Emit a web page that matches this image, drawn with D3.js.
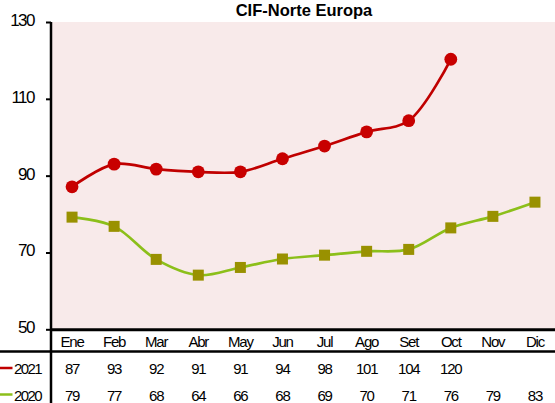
<!DOCTYPE html>
<html><head><meta charset="utf-8">
<script src="https://cdn.jsdelivr.net/npm/d3@7"></script>
<style>
html,body{margin:0;padding:0;background:#fff;}
svg{display:block;font-family:"Liberation Sans",Arial,sans-serif;}
</style></head>
<body>
<svg id="c" width="555" height="403"></svg>
<script>
const title = "CIF-Norte Europa";
const months = ["Ene","Feb","Mar","Abr","May","Jun","Jul","Ago","Set","Oct","Nov","Dic"];
const series2021 = [87.1, 93.0, 91.7, 91.0, 91.0, 94.4, 97.7, 101.4, 104.3, 120.3];
const series2020 = [79.2, 76.8, 68.2, 64.1, 66.1, 68.3, 69.3, 70.3, 70.8, 76.4, 79.4, 83.1];
const seriesNames = ["2021", "2020"];
const yTicks = [50, 70, 90, 110, 130];

const svg = d3.select("#c");
const W = 555, H = 403;
const L = 51, R = 556, T = 22, B = 329.3;

const x = d3.scaleBand().domain(months).range([L, R]);
const y = d3.scaleLinear().domain([50, 130]).range([B, T]);
const cx = m => x(m) + x.bandwidth() / 2;

// plot background
svg.append("rect").attr("x", L).attr("y", T).attr("width", W - L).attr("height", B - T)
  .attr("fill", "#f8eaea");

// title
svg.append("text").attr("x", 304).attr("y", 16).attr("text-anchor", "middle")
  .attr("font-size", 16.5).attr("font-weight", "bold").attr("fill", "#000").text(title);

// y axis
const yAxis = d3.axisLeft(y).tickValues(yTicks).tickSize(5).tickPadding(12).tickSizeOuter(0);
const ga = svg.append("g").attr("transform", `translate(${L},0)`).call(yAxis);
ga.select(".domain").remove();
ga.selectAll(".tick line").attr("stroke", "#000").attr("stroke-width", 2);
ga.selectAll(".tick text").attr("font-size", 17).attr("letter-spacing", -1.5)
  .attr("fill", "#000").attr("font-family", "Liberation Sans, Arial, sans-serif")
  .attr("dy", "0.2em");

// lines
const line = d3.line().x((d, i) => cx(months[i])).y(d => y(d)).curve(d3.curveCatmullRom.alpha(0.5));
svg.append("path").datum(series2020).attr("d", line).attr("fill", "none")
  .attr("stroke", "#8cbf1a").attr("stroke-width", 2.7);
svg.append("path").datum(series2021).attr("d", line).attr("fill", "none")
  .attr("stroke", "#c00000").attr("stroke-width", 2.7);

// markers
const sq = 11;
svg.selectAll("rect.m20").data(series2020).enter().append("rect").attr("class", "m20")
  .attr("x", (d, i) => cx(months[i]) - sq / 2).attr("y", d => y(d) - sq / 2)
  .attr("width", sq).attr("height", sq).attr("fill", "#999100");
svg.selectAll("circle.m21").data(series2021).enter().append("circle").attr("class", "m21")
  .attr("cx", (d, i) => cx(months[i])).attr("cy", d => y(d)).attr("r", 6.4).attr("fill", "#c80000");

// table borders
svg.append("line").attr("x1", L).attr("x2", W).attr("y1", y.range()[0] + 0.5).attr("y2", y.range()[0] + 0.5)
  .attr("stroke", "#000").attr("stroke-width", 3);
svg.append("line").attr("x1", 0).attr("x2", W).attr("y1", 351.5).attr("y2", 351.5)
  .attr("stroke", "#000").attr("stroke-width", 2.5);
svg.append("line").attr("x1", L).attr("x2", L).attr("y1", T).attr("y2", H)
  .attr("stroke", "#000").attr("stroke-width", 2.5);

// table text
const tfs = 15;
svg.selectAll("text.mo").data(months).enter().append("text").attr("class", "mo")
  .attr("x", d => cx(d)).attr("y", 347).attr("text-anchor", "middle")
  .attr("font-size", tfs).attr("letter-spacing", -1.2).attr("fill", "#000").text(d => d);

const rows = [
  {name: seriesNames[0], vals: series2021, color: "#c00000", yb: 374},
  {name: seriesNames[1], vals: series2020, color: "#8cbf1a", yb: 400.5}
];
rows.forEach(r => {
  svg.append("line").attr("x1", 0).attr("x2", 12.5).attr("y1", r.yb - 6).attr("y2", r.yb - 6)
    .attr("stroke", r.color).attr("stroke-width", 2.5);
  svg.append("text").attr("x", 14).attr("y", r.yb).attr("font-size", tfs).attr("letter-spacing", -1.6)
    .attr("fill", "#000").text(r.name);
  svg.selectAll(null).data(r.vals).enter().append("text")
    .attr("x", (d, i) => cx(months[i])).attr("y", r.yb).attr("text-anchor", "middle")
    .attr("font-size", tfs).attr("letter-spacing", -1.2).attr("fill", "#000")
    .text(d => Math.round(d));
});
</script>
</body></html>
